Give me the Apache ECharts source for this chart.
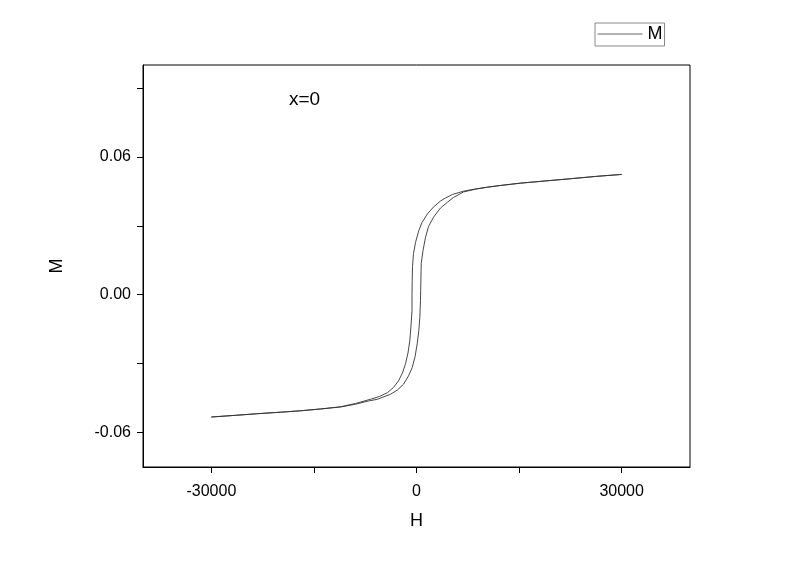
<!DOCTYPE html>
<html>
<head>
<meta charset="utf-8">
<script src="https://cdn.jsdelivr.net/npm/echarts@6/dist/echarts.min.js"></script>
<style>
html,body{margin:0;padding:0;background:#fff;}
#chart{width:800px;height:561px;}
</style>
</head>
<body>
<div id="chart"></div>
<script>
// Descending branch (H from +30000 to -30000)
const hDesc = [30000, 26190, 22530, 18873, 15215, 12290, 10387, 8632, 6876, 5267, 4243, 3511, 2487, 1609, 805, 336, -146, -439, -585, -629, -658, -658, -805, -980, -1244, -1609, -2048, -2633, -3365, -4243, -5413, -6730, -8924, -11119, -14045, -16971, -19897, -23262, -26480, -30000];
const mDesc = [0.05236, 0.05149, 0.05049, 0.04953, 0.04857, 0.04756, 0.04682, 0.04604, 0.04508, 0.04364, 0.04211, 0.04080, 0.03818, 0.03522, 0.03142, 0.02793, 0.02269, 0.01789, 0.01222, 0.00611, 0.0, -0.00698, -0.01353, -0.02007, -0.02531, -0.03011, -0.03404, -0.03753, -0.04036, -0.04263, -0.04429, -0.04551, -0.04735, -0.04879, -0.04975, -0.05053, -0.05114, -0.05180, -0.05250, -0.05324];
// Ascending branch (H from -30000 to +30000)
const hAsc = [-30000, -26480, -23262, -19897, -16971, -14045, -11119, -8924, -7022, -5706, -3804, -2780, -1902, -1170, -629, -219, 102, 336, 483, 585, 614, 688, 951, 1317, 1756, 2487, 3511, 4535, 5413, 6876, 8632, 10387, 12290, 15215, 18873, 22530, 26190, 30000];
const mAsc = [-0.05324, -0.05250, -0.05180, -0.05114, -0.05053, -0.04975, -0.04888, -0.04769, -0.04625, -0.04551, -0.04333, -0.04145, -0.03897, -0.03535, -0.03172, -0.02705, -0.02138, -0.01571, -0.00991, -0.00262, 0.00175, 0.01353, 0.01920, 0.02500, 0.02967, 0.03373, 0.03775, 0.04028, 0.04233, 0.04473, 0.04595, 0.04682, 0.04756, 0.04857, 0.04953, 0.05049, 0.05149, 0.05236];

const xTicks = [-30000, -15000, 0, 15000, 30000];
const xLabels = [-30000, 0, 30000];
const yTicks = [-0.06, -0.03, 0, 0.03, 0.06, 0.09];
const yLabels = [-0.06, 0, 0.06];

const loop = [];
hDesc.forEach((h, i) => loop.push([h, mDesc[i]]));
hAsc.forEach((h, i) => loop.push([h, mAsc[i]]));

const font = 'Liberation Sans, Arial, sans-serif';
const chart = echarts.init(document.getElementById('chart'));
chart.setOption({
  backgroundColor: '#fff',
  animation: false,
  grid: {left: 143, right: 110, top: 65, bottom: 94, show: true, borderColor: '#000', borderWidth: 1, containLabel: false},
  legend: {
    left: 595, top: 23, padding: [2, 2, 3, 2],
    borderColor: '#888', borderWidth: 1,
    itemWidth: 45, itemHeight: 14, itemGap: 0,
    itemStyle: {opacity: 0},
    lineStyle: {color: '#666', width: 1},
    textStyle: {fontFamily: font, fontSize: 18, color: '#000'},
    data: ['M']
  },
  xAxis: {
    type: 'value', min: -40000, max: 40000,
    name: 'H', nameLocation: 'middle', nameGap: 45,
    nameTextStyle: {fontFamily: font, fontSize: 18, color: '#000'},
    axisLine: {onZero: false, lineStyle: {color: '#000', width: 1}},
    axisTick: {show: true, length: 6, inside: false, customValues: xTicks, lineStyle: {color: '#000'}},
    axisLabel: {customValues: xLabels, margin: 17, fontFamily: font, fontSize: 16, color: '#000', formatter: v => String(v)},
    splitLine: {show: false}
  },
  yAxis: {
    type: 'value', min: -0.075, max: 0.1,
    name: 'M', nameLocation: 'middle', nameGap: 77,
    nameTextStyle: {fontFamily: font, fontSize: 18, color: '#000'},
    axisLine: {onZero: false, lineStyle: {color: '#000', width: 1}},
    axisTick: {show: true, length: 6, inside: false, customValues: yTicks, lineStyle: {color: '#000'}},
    axisLabel: {customValues: yLabels, margin: 12, fontFamily: font, fontSize: 16, color: '#000', formatter: v => v.toFixed(2)},
    splitLine: {show: false}
  },
  graphic: [{
    type: 'text', left: 289, top: 90,
    style: {text: 'x=0', font: '19px ' + font, fill: '#000'}
  }],
  series: [{
    name: 'M', type: 'line', data: loop,
    symbol: 'none', showSymbol: false, smooth: false,
    itemStyle: {color: '#333'},
    lineStyle: {color: '#333', width: 0.9}
  }]
});
</script>
</body>
</html>
